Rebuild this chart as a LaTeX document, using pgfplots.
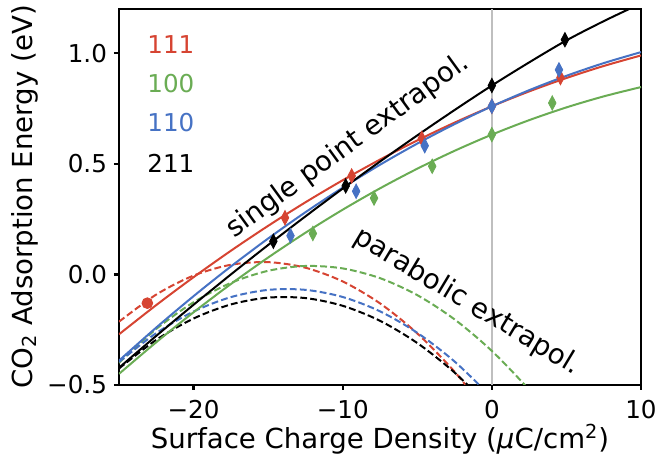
\documentclass[border=0pt]{standalone}
\usepackage{fontspec}
\setmainfont{DejaVu Sans}
\usepackage{pgfplots}
\pgfplotsset{compat=1.18}
\definecolor{cred}{RGB}{214,68,50}
\definecolor{cgreen}{RGB}{106,172,84}
\definecolor{cblue}{RGB}{70,114,196}
\definecolor{cgray}{RGB}{191,191,191}
\begin{document}
\begin{tikzpicture}
\path[use as bounding box] (0,0) rectangle (330pt,227pt);
\begin{axis}[
  at={(59.5pt,34.5pt)}, anchor=south west,
  width=261pt, height=188pt, scale only axis,
  xmin=-25, xmax=10, ymin=-0.5, ymax=1.2,
  xtick={-20,-10,0,10}, xticklabels={−20,−10,0,10},
  ytick={-0.5,0,0.5,1}, yticklabels={−0.5,0.0,0.5,1.0},
  xtick pos=left, ytick pos=left,
  tick align=outside, major tick length=2.5pt,
  tick style={line width=1.1pt, black},
  axis line style={line width=1.3pt},
  ticklabel style={font=\fontsize{12.3}{14}\selectfont},
  xticklabel style={yshift=-1.5pt},
  xlabel={Surface Charge Density (\textit{μ}C/cm\textsuperscript{2})},
  ylabel={CO\textsubscript{2} Adsorption Energy (eV)},
  label style={font=\fontsize{13.8}{16}\selectfont},
  xlabel style={at={(axis description cs:0.5,0)}, anchor=base, yshift=-32pt},
  ylabel style={at={(axis description cs:-0.181,0.5)}, anchor=center},
]
% vertical reference line
\addplot[cgray, line width=1pt, forget plot] coordinates {(0,-0.5) (0,1.2)};

% parabolic extrapolation (dashed)
\addplot[cred, line width=1pt, dash pattern=on 3.4pt off 1.6pt, smooth] coordinates {
(-25,-0.2138) (-22.5,-0.0910) (-20,-0.0052) (-17.5,0.0436) (-15,0.0555) (-12.5,0.0303)
(-10,-0.0318) (-7.5,-0.1309) (-5,-0.2670) (-2.5,-0.4400) (0,-0.65)};
\addplot[cgreen, line width=1pt, dash pattern=on 3.4pt off 1.6pt, smooth] coordinates {
(-25,-0.3999) (-22.5,-0.2465) (-20,-0.1260) (-17.5,-0.0384) (-15,0.0163) (-12.5,0.0382)
(-10,0.0271) (-7.5,-0.0168) (-5,-0.0937) (-2.5,-0.2034) (0,-0.346) (2.5,-0.5215) (5,-0.72)};
\addplot[cblue, line width=1pt, dash pattern=on 3.4pt off 1.6pt, smooth] coordinates {
(-25,-0.3955) (-22.5,-0.2654) (-20,-0.1678) (-17.5,-0.1027) (-15,-0.0700) (-12.5,-0.0698)
(-10,-0.1021) (-7.5,-0.1669) (-5,-0.2641) (-2.5,-0.3938) (0,-0.556)};
\addplot[black, line width=1pt, dash pattern=on 3.4pt off 1.6pt, smooth] coordinates {
(-25,-0.4253) (-22.5,-0.2959) (-20,-0.1994) (-17.5,-0.1358) (-15,-0.1050) (-12.5,-0.1070)
(-10,-0.1419) (-7.5,-0.2097) (-5,-0.3103) (-2.5,-0.4437) (0,-0.61)};

% data markers
\addplot[only marks, mark=*, mark size=2.7pt, cred, mark options={fill=cred, draw=cred}] coordinates {(-23.1,-0.13)};
\addplot[only marks, mark=diamond*, mark size=3.6pt, cred, mark options={xscale=0.7, fill=cred, draw=cred}] coordinates {
(-13.87,0.256) (-9.4,0.445) (-4.7,0.615) (0,0.76) (4.6,0.89)};
\addplot[only marks, mark=diamond*, mark size=3.6pt, cgreen, mark options={xscale=0.7, fill=cgreen, draw=cgreen}] coordinates {
(-12.0,0.185) (-7.9,0.345) (-4.0,0.489) (0,0.632) (4.05,0.775)};
\addplot[only marks, mark=diamond*, mark size=3.6pt, cblue, mark options={xscale=0.7, fill=cblue, draw=cblue}] coordinates {
(-13.5,0.175) (-9.1,0.376) (-4.5,0.582) (0,0.76) (4.5,0.925)};
\addplot[only marks, mark=diamond*, mark size=3.6pt, black, mark options={xscale=0.7, fill=black, draw=black}] coordinates {
(-14.65,0.150) (-9.8,0.400) (0,0.854) (4.9,1.061)};

% single point extrapolation (solid)
\addplot[cred, line width=1pt, smooth] coordinates {
(-25,-0.2709) (-22.5,-0.1385) (-20,-0.0126) (-17.5,0.1068) (-15,0.2196) (-12.5,0.3260)
(-10,0.4258) (-7.5,0.5191) (-5,0.6059) (-2.5,0.6862) (0,0.76) (2.5,0.8273)
(5,0.8880) (7.5,0.9423) (10,0.9900)};
\addplot[cgreen, line width=1pt, smooth] coordinates {
(-25,-0.4498) (-22.5,-0.3066) (-20,-0.1712) (-17.5,-0.0436) (-15,0.0763) (-12.5,0.1883)
(-10,0.2926) (-7.5,0.3891) (-5,0.4779) (-2.5,0.5588) (0,0.632) (2.5,0.6974)
(5,0.7551) (7.5,0.8049) (10,0.8470)};
\addplot[cblue, line width=1pt, smooth] coordinates {
(-25,-0.3898) (-22.5,-0.2402) (-20,-0.0984) (-17.5,0.0358) (-15,0.1623) (-12.5,0.2811)
(-10,0.3922) (-7.5,0.4957) (-5,0.5915) (-2.5,0.6796) (0,0.76) (2.5,0.8328)
(5,0.8979) (7.5,0.9553) (10,1.0050)};
\addplot[black, line width=1pt, smooth] coordinates {
(-25,-0.4221) (-22.5,-0.2778) (-20,-0.1372) (-17.5,-0.0003) (-15,0.1329) (-12.5,0.2623)
(-10,0.3881) (-7.5,0.5101) (-5,0.6285) (-2.5,0.7431) (0,0.854) (2.5,0.9585)
(5,1.0580) (7.5,1.1450) (10,1.2250)};
\end{axis}
% legend texts
\begin{scope}[every node/.style={anchor=west, inner sep=0pt, font=\fontsize{12.3}{14}\selectfont}]
\node[text=cred] at (73.5pt,204.75pt) {111};
\node[text=cgreen] at (73.5pt,185.25pt) {100};
\node[text=cblue] at (73.5pt,165.5pt) {110};
\node[text=black] at (73.5pt,145.5pt) {211};
\end{scope}
% annotations
\node[rotate=36, font=\fontsize{13.8}{16}\selectfont] at (174pt,154pt) {single point extrapol.};
\node[rotate=-31, font=\fontsize{13.8}{16}\selectfont] at (233.5pt,76pt) {parabolic extrapol.};
\end{tikzpicture}
\end{document}
